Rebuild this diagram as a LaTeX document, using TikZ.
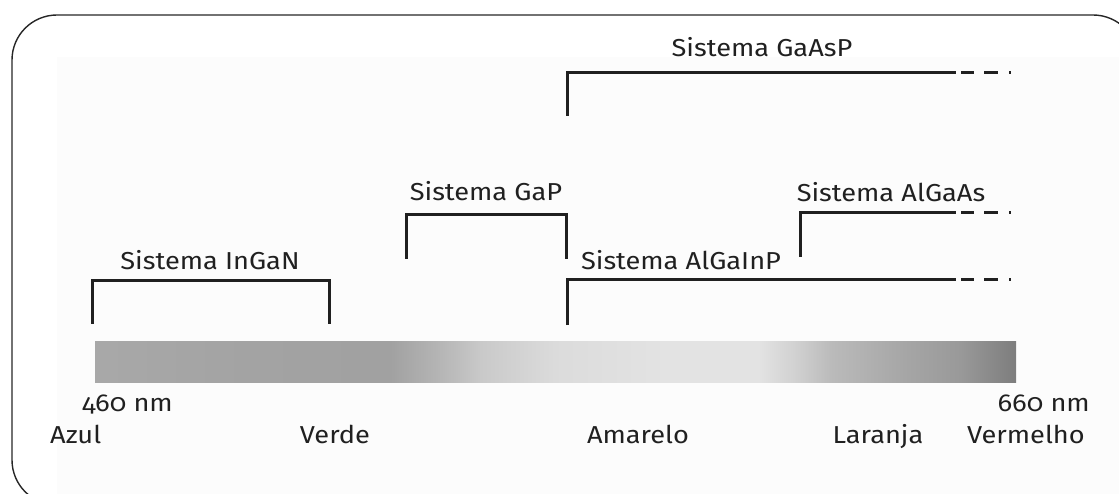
\documentclass[tikz,border=0pt]{standalone}
\usepackage{fontspec}
\setmainfont{Fira Sans}[Numbers=OldStyle, FakeStretch=1.11]
\definecolor{ink}{HTML}{202020}
% grey band standing for the visible spectrum (blue on the left, red on the right)
\pgfdeclarehorizontalshading{spectrum}{100bp}{%
  color(0bp)=(black!34); color(25bp)=(black!34); color(33bp)=(black!36);
  color(41bp)=(black!37); color(44bp)=(black!28); color(46bp)=(black!21);
  color(50bp)=(black!14); color(56bp)=(black!11); color(61bp)=(black!11);
  color(63bp)=(black!18); color(65bp)=(black!27); color(69bp)=(black!35);
  color(72bp)=(black!40); color(75bp)=(black!51); color(100bp)=(black!51)}
\tikzset{
  bracket/.style={draw=ink, line width=3pt},
  tail/.style={draw=ink, line width=3pt, dash pattern=on 13pt off 10pt on 14pt off 11pt on 2pt off 30pt},
  lbl/.style={font=\fontsize{24.5}{26}\selectfont, text=ink, inner sep=0pt, anchor=base},
}
\begin{document}
\begin{tikzpicture}[x=1pt, y=-1pt]
  \useasboundingbox (0,0) rectangle (1119,494);
  % panel background and rounded frame
  \fill[black!1.2] (57,57) rectangle (1119,494);
  \draw[black!85, line width=1.4pt, rounded corners=45pt] (12,15) rectangle (1138,505);

  % spectrum band
  \shade[shading=spectrum] (95,341) rectangle (1016,382);

  % InGaN
  \coordinate (ing1) at (92,324);  \coordinate (ing2) at (92,281);
  \coordinate (ing3) at (329,281); \coordinate (ing4) at (329,324);
  \draw[bracket] (ing1) -- (ing2) -- (ing3) -- (ing4);
  \node[lbl] (lIngan) at (210,270) {Sistema InGaN};

  % GaP
  \coordinate (gap1) at (406,259); \coordinate (gap2) at (406,215);
  \coordinate (gap3) at (566,215); \coordinate (gap4) at (566,259);
  \draw[bracket] (gap1) -- (gap2) -- (gap3) -- (gap4);
  \node[lbl] (lGap) at (486,201) {Sistema GaP};

  % GaAsP
  \coordinate (gas1) at (567,116); \coordinate (gas2) at (567,73);
  \coordinate (gas3) at (956,73);  \coordinate (gas4) at (1013,73);
  \draw[bracket] (gas1) -- (gas2) -- (gas3);
  \draw[tail] ([xshift=5pt]gas3) -- (gas4);
  \node[lbl] (lGaasp) at (762,57) {Sistema GaAsP};

  % AlGaAs
  \coordinate (aas1) at (800,257); \coordinate (aas2) at (800,213);
  \coordinate (aas3) at (956,213); \coordinate (aas4) at (1013,213);
  \draw[bracket] (aas1) -- (aas2) -- (aas3);
  \draw[tail] ([xshift=5pt]aas3) -- (aas4);
  \node[lbl] (lAlgaas) at (891,202) {Sistema AlGaAs};

  % AlGaInP
  \coordinate (aip1) at (567,325); \coordinate (aip2) at (567,280);
  \coordinate (aip3) at (956,280); \coordinate (aip4) at (1013,280);
  \draw[bracket] (aip1) -- (aip2) -- (aip3);
  \draw[tail] ([xshift=5pt]aip3) -- (aip4);
  \node[lbl] (lAlgainp) at (681,270) {Sistema AlGaInP};

  % wavelength and colour names
  \node[lbl, anchor=base west] (n460) at (82,411) {460 nm};
  \node[lbl, anchor=base east] (n660) at (1090,411) {660 nm};
  \node[lbl, anchor=base west] (azul) at (50,443) {Azul};
  \node[lbl] (verde) at (335,443) {Verde};
  \node[lbl] (amarelo) at (638,443) {Amarelo};
  \node[lbl] (laranja) at (878,443) {Laranja};
  \node[lbl, anchor=base east] (vermelho) at (1085,443) {Vermelho};
\end{tikzpicture}
\end{document}
